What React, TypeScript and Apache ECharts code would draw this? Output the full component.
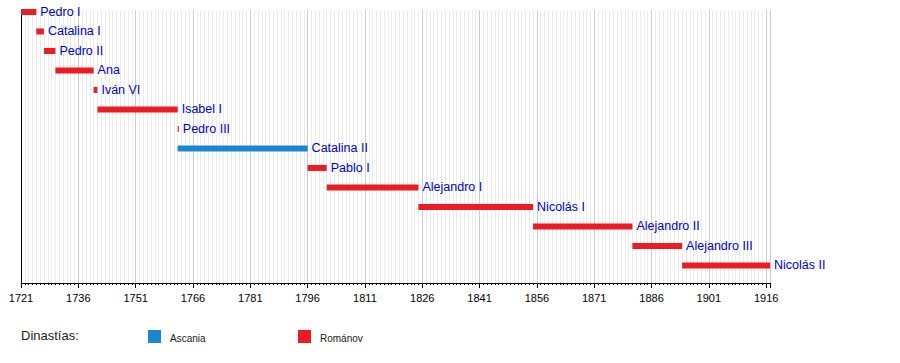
import React, { useEffect, useRef } from "react";
import * as echarts from "echarts";

const rulers = [
  "Pedro I", "Catalina I", "Pedro II", "Ana", "Iván VI", "Isabel I", "Pedro III",
  "Catalina II", "Pablo I", "Alejandro I", "Nicolás I", "Alejandro II", "Alejandro III", "Nicolás II",
];
const startYears = [1721, 1725, 1727, 1730, 1740, 1741, 1762, 1762, 1796, 1801, 1825, 1855, 1881, 1894];
const endYears = [1725, 1727, 1730, 1740, 1741, 1762, 1762.3, 1796, 1801, 1825, 1855, 1881, 1894, 1917];
const dynasties = [
  "Románov", "Románov", "Románov", "Románov", "Románov", "Románov", "Románov",
  "Ascania", "Románov", "Románov", "Románov", "Románov", "Románov", "Románov",
];
const dynastyNames = ["Ascania", "Románov"];
const dynastyColors: Record<string, string> = { Ascania: "#1b87d0", "Románov": "#ed1c24" };
const legendTitle = "Dinastías:";

const FONT = "'Liberation Sans', Arial, sans-serif";

export default function App() {
  const ref = useRef<HTMLDivElement>(null);
  useEffect(() => {
    if (!ref.current) return;
    const chart = echarts.init(ref.current, undefined, { renderer: "svg" });
    const data = rulers.map((name, i) => ({
      value: [startYears[i], endYears[i], i],
      name,
      dyn: dynasties[i],
    }));
    const legendGraphics: any[] = [
      {
        type: "text",
        left: 21,
        top: 329,
        style: { text: legendTitle, fill: "#222", font: `13px ${FONT}` },
      },
    ];
    dynastyNames.forEach((d, k) => {
      const x0 = 148 + k * 150;
      legendGraphics.push({
        type: "rect",
        shape: { x: x0, y: 330, width: 13, height: 13 },
        style: { fill: dynastyColors[d] },
      });
      legendGraphics.push({
        type: "text",
        x: x0 + 22,
        y: 338,
        style: { text: d, fill: "#222", font: `10px ${FONT}`, textVerticalAlign: "middle" },
      });
    });
    chart.setOption({
      animation: false,
      grid: { left: 21, right: 130, top: 10, bottom: 80 },
      xAxis: {
        type: "value",
        position: "bottom",
        min: 1721,
        max: 1917,
        interval: 15,
        axisLine: { show: true, onZero: false, lineStyle: { color: "#000", width: 1 } },
        axisTick: { show: true, length: 5, lineStyle: { color: "#000" } },
        minorTick: { show: true, splitNumber: 15, length: 2, lineStyle: { color: "#000" } },
        splitLine: { show: true, lineStyle: { color: "#cccccc", width: 1 } },
        minorSplitLine: { show: true, lineStyle: { color: "#ececec", width: 1 } },
        axisLabel: {
          margin: 9,
          color: "#000",
          fontSize: 11,
          fontFamily: FONT,
          showMaxLabel: false,
          formatter: (v: number) => (v === 1917 ? "" : String(v)),
        },
      },
      yAxis: {
        type: "value",
        inverse: true,
        min: -0.1,
        max: 13.9,
        axisLine: { show: true, onZero: false, lineStyle: { color: "#000", width: 1 } },
        axisTick: { show: false },
        axisLabel: { show: false },
        splitLine: { show: false },
      },
      graphic: legendGraphics,
      series: [
        {
          type: "custom",
          clip: false,
          data,
          renderItem: (params: any, api: any) => {
            const s = api.value(0);
            const e = api.value(1);
            const r = api.value(2);
            const p0 = api.coord([s, r]);
            const p1 = api.coord([e, r]);
            const item = data[params.dataIndex];
            return {
              type: "group",
              children: [
                {
                  type: "rect",
                  shape: { x: p0[0], y: p0[1] - 3, width: Math.max(p1[0] - p0[0], 1), height: 6 },
                  style: { fill: dynastyColors[item.dyn] },
                },
                {
                  type: "text",
                  x: p1[0] + 4,
                  y: p1[1],
                  style: {
                    text: item.name,
                    fill: "#0000cc",
                    font: `12.5px ${FONT}`,
                    textVerticalAlign: "middle",
                  },
                },
              ],
            };
          },
        },
      ],
    });
    return () => chart.dispose();
  }, []);
  return <div ref={ref} style={{ width: 900, height: 363, position: "absolute", left: 0, top: 0 }} />;
}
